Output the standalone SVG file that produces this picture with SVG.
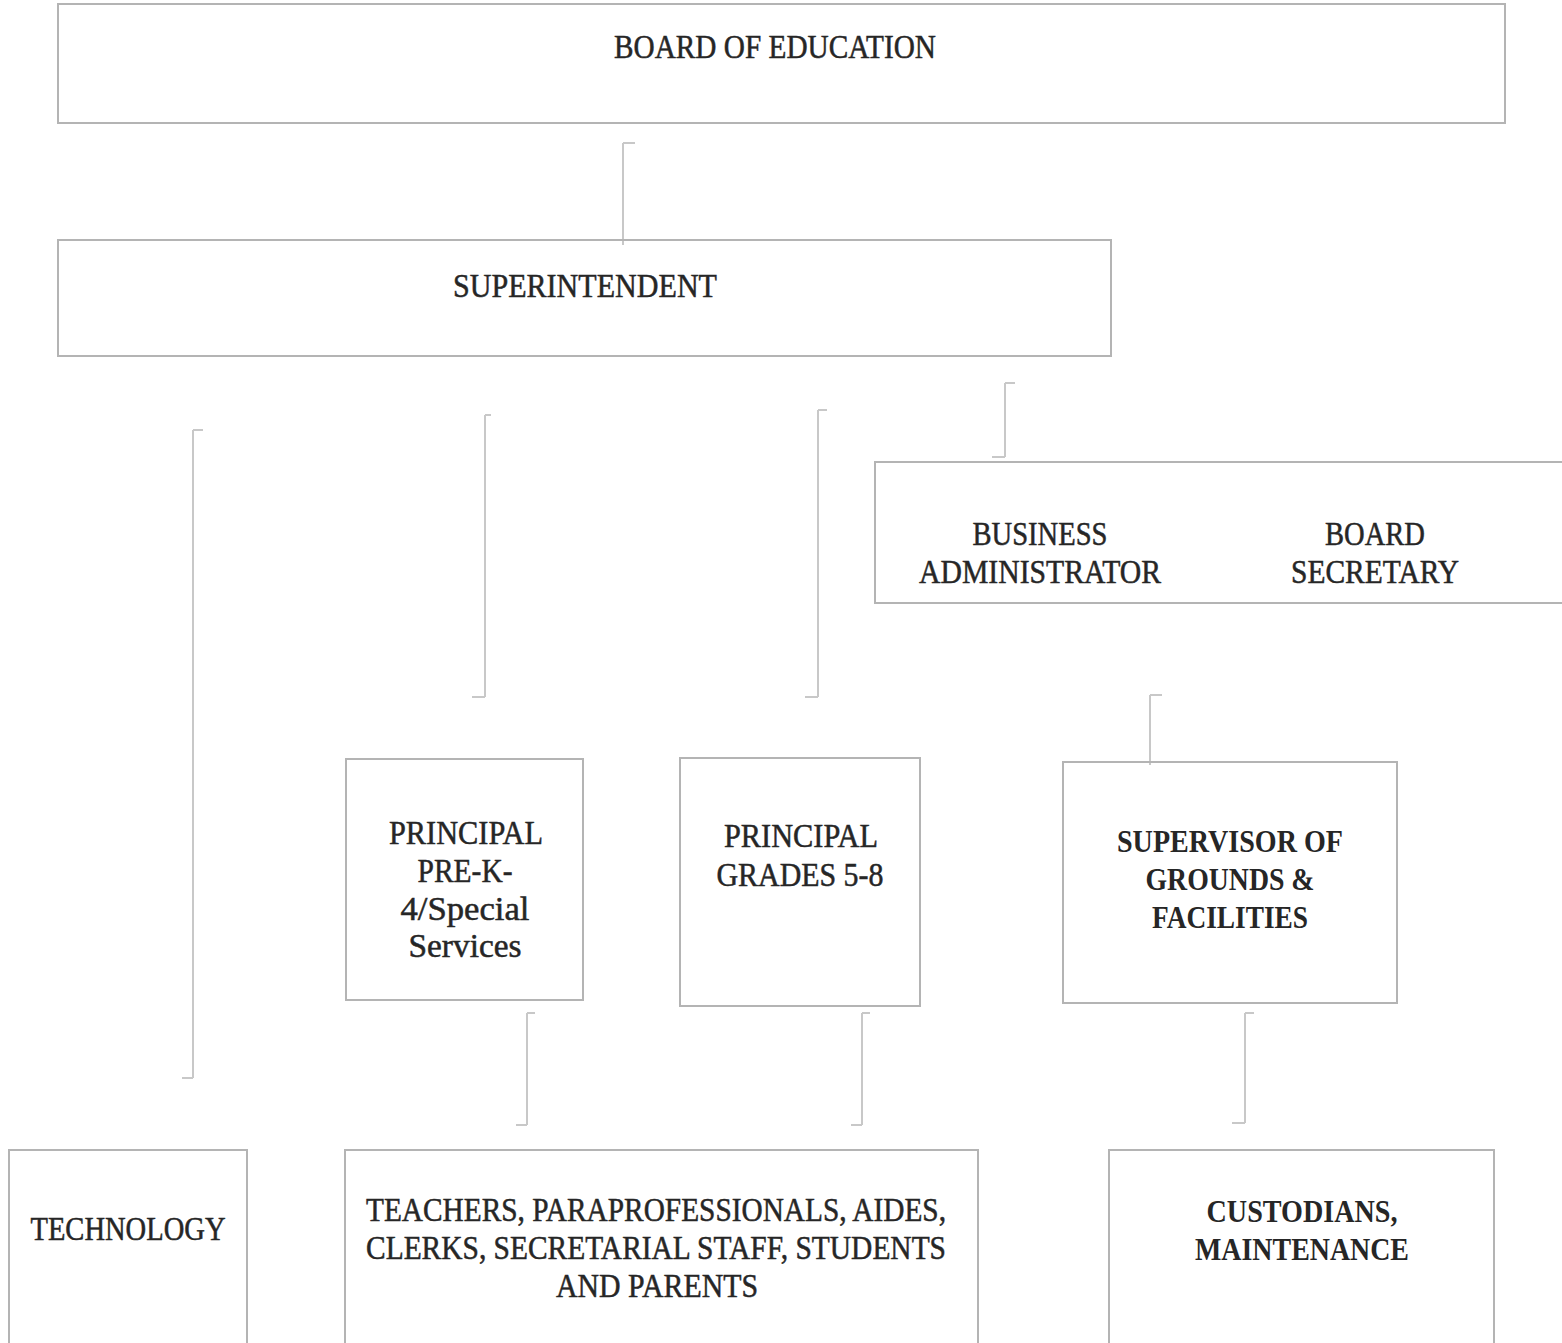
<svg xmlns="http://www.w3.org/2000/svg" width="1562" height="1343" viewBox="0 0 1562 1343">
<style>
.box{fill:none;stroke:#b4b4b4;stroke-width:2}
.con{fill:none;stroke:#c8c8c8;stroke-width:2}
.t{font-family:"Liberation Serif","DejaVu Serif",serif;font-size:33px;fill:#262626;stroke:#262626;stroke-width:0.5;text-anchor:middle}
.b{font-weight:bold;font-size:31px;stroke-width:0}
</style>
<rect width="1562" height="1343" fill="#ffffff"/>
<g id="connectors">
<path class="con" d="M623 143V245M623 143h12"/>
<path class="con" d="M193 430V1078M193 430h10M182 1078h11"/>
<path class="con" d="M485 415V697M485 415h6M472 697h13"/>
<path class="con" d="M818 410V697M818 410h9M805 697h13"/>
<path class="con" d="M1005 383V457M1005 383h10M992 457h13"/>
<path class="con" d="M1150 695V765M1150 695h12"/>
<path class="con" d="M527 1013V1125M527 1013h8M516 1125h11"/>
<path class="con" d="M862 1013V1125M862 1013h8M851 1125h11"/>
<path class="con" d="M1245 1013V1123M1245 1013h9M1232 1123h13"/>
</g>
<g id="board">
<rect class="box" x="58" y="4" width="1447" height="119"/>
<text class="t" x="775" y="58" textLength="322" lengthAdjust="spacingAndGlyphs">BOARD OF EDUCATION</text>
</g>
<g id="superintendent">
<rect class="box" x="58" y="240" width="1053" height="116"/>
<text class="t" x="585" y="297" textLength="264" lengthAdjust="spacingAndGlyphs">SUPERINTENDENT</text>
</g>
<g id="business">
<rect class="box" x="875" y="462" width="700" height="141"/>
<text class="t" x="1040" y="545" textLength="135" lengthAdjust="spacingAndGlyphs">BUSINESS</text>
<text class="t" x="1040" y="583" textLength="242" lengthAdjust="spacingAndGlyphs">ADMINISTRATOR</text>
<text class="t" x="1375" y="545" textLength="100" lengthAdjust="spacingAndGlyphs">BOARD</text>
<text class="t" x="1375" y="583" textLength="168" lengthAdjust="spacingAndGlyphs">SECRETARY</text>
</g>
<g id="principal-prek">
<rect class="box" x="346" y="759" width="237" height="241"/>
<text class="t" x="466" y="844" textLength="154" lengthAdjust="spacingAndGlyphs">PRINCIPAL</text>
<text class="t" x="465" y="882" textLength="95" lengthAdjust="spacingAndGlyphs">PRE-K-</text>
<text class="t" x="465" y="920" textLength="129" lengthAdjust="spacingAndGlyphs">4/Special</text>
<text class="t" x="465" y="957" textLength="113" lengthAdjust="spacingAndGlyphs">Services</text>
</g>
<g id="principal-grades">
<rect class="box" x="680" y="758" width="240" height="248"/>
<text class="t" x="801" y="847" textLength="154" lengthAdjust="spacingAndGlyphs">PRINCIPAL</text>
<text class="t" x="800" y="886" textLength="167" lengthAdjust="spacingAndGlyphs">GRADES 5-8</text>
</g>
<g id="supervisor">
<rect class="box" x="1063" y="762" width="334" height="241"/>
<text class="t b" x="1230" y="852" textLength="226" lengthAdjust="spacingAndGlyphs">SUPERVISOR OF</text>
<text class="t b" x="1230" y="890" textLength="169" lengthAdjust="spacingAndGlyphs">GROUNDS &amp;</text>
<text class="t b" x="1230" y="928" textLength="156" lengthAdjust="spacingAndGlyphs">FACILITIES</text>
</g>
<g id="technology">
<rect class="box" x="9" y="1150" width="238" height="200"/>
<text class="t" x="128" y="1240" textLength="195" lengthAdjust="spacingAndGlyphs">TECHNOLOGY</text>
</g>
<g id="teachers">
<rect class="box" x="345" y="1150" width="633" height="200"/>
<text class="t" x="656" y="1221" textLength="580" lengthAdjust="spacingAndGlyphs">TEACHERS, PARAPROFESSIONALS, AIDES,</text>
<text class="t" x="656" y="1259" textLength="580" lengthAdjust="spacingAndGlyphs">CLERKS, SECRETARIAL STAFF, STUDENTS</text>
<text class="t" x="657" y="1297" textLength="202" lengthAdjust="spacingAndGlyphs">AND PARENTS</text>
</g>
<g id="custodians">
<rect class="box" x="1109" y="1150" width="385" height="200"/>
<text class="t b" x="1302" y="1222" textLength="191" lengthAdjust="spacingAndGlyphs">CUSTODIANS,</text>
<text class="t b" x="1302" y="1260" textLength="214" lengthAdjust="spacingAndGlyphs">MAINTENANCE</text>
</g>
</svg>
